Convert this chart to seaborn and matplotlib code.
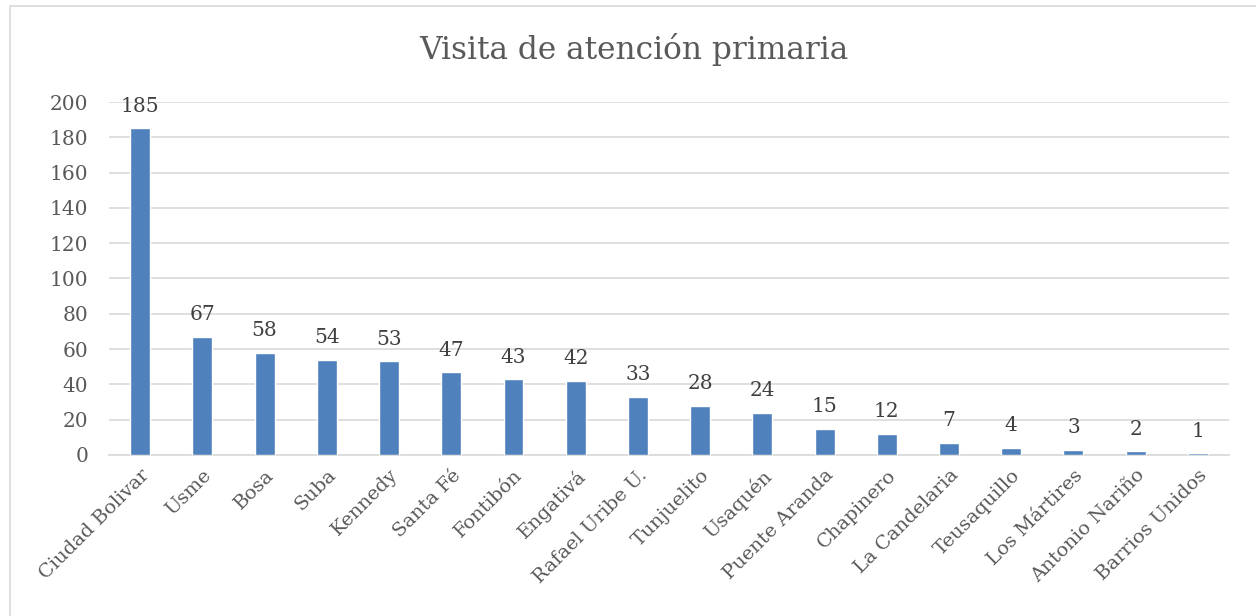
import matplotlib
matplotlib.use("Agg")
import matplotlib.pyplot as plt
import seaborn as sns
import pandas as pd
from matplotlib.patches import Rectangle

localidades = ['Ciudad Bolivar', 'Usme', 'Bosa', 'Suba', 'Kennedy', 'Santa Fé',
               'Fontibón', 'Engativá', 'Rafael Uribe U.', 'Tunjuelito', 'Usaquén',
               'Puente Aranda', 'Chapinero', 'La Candelaria', 'Teusaquillo',
               'Los Mártires', 'Antonio Nariño', 'Barrios Unidos']
visitas = [185, 67, 58, 54, 53, 47, 43, 42, 33, 28, 24, 15, 12, 7, 4, 3, 2, 1]
y_ticks = [0, 20, 40, 60, 80, 100, 120, 140, 160, 180, 200]

sns.set_theme(style="white")
plt.rcParams['font.family'] = ['DejaVu Serif']
gray = '#595959'

df = pd.DataFrame({'localidad': localidades, 'visitas': visitas})

fig = plt.figure(figsize=(12.56, 6.16), dpi=100)
ax = fig.add_axes([0.0868, 0.2614, 0.8917, 0.573])

sns.barplot(data=df, x='localidad', y='visitas', color='#4f81bd',
            saturation=1, width=0.32, ax=ax, zorder=3)

ax.set_ylim(0, 200)
ax.set_yticks(y_ticks)
ax.yaxis.grid(True, color='#d9d9d9', linewidth=1.2, zorder=0)
ax.xaxis.grid(False)
for s in ['top', 'right', 'left']:
    ax.spines[s].set_visible(False)
ax.spines['bottom'].set_color('#d9d9d9')
ax.spines['bottom'].set_linewidth(1.2)
ax.set_xlabel('')
ax.set_ylabel('')
ax.tick_params(axis='y', labelsize=14.5, colors=gray, length=0, pad=15)
ax.tick_params(axis='x', labelsize=14, colors=gray, length=0, pad=8)
plt.setp(ax.get_xticklabels(), rotation=45, ha='right', rotation_mode='anchor')

for i, v in enumerate(visitas):
    ax.annotate(str(v), (i, v), xytext=(0, 9), textcoords='offset points',
                ha='center', va='bottom', fontsize=14.5, color='#404040')

fig.text(0.505, 0.919, 'Visita de atención primaria', ha='center', va='center',
         fontsize=22.5, color=gray)

fig.patches.append(Rectangle((0.008, -0.01), 1.0, 1.0, transform=fig.transFigure,
                             fill=False, edgecolor='#d9d9d9', linewidth=1.2))

fig.savefig('out.png', dpi=100)
